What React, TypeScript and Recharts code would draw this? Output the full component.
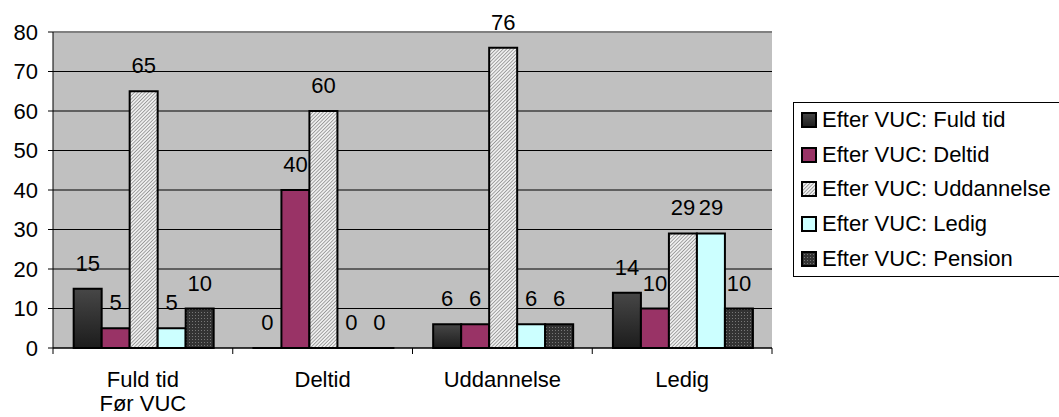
import React from "react";
import {
  BarChart, Bar, XAxis, YAxis, CartesianGrid, LabelList, ReferenceLine,
} from "recharts";

const CATEGORIES = ["Fuld tid", "Deltid", "Uddannelse", "Ledig"];
const AXIS_TITLE = "Før VUC";
const Y_TICKS = [0, 10, 20, 30, 40, 50, 60, 70, 80];

const FULD_TID = [15, 0, 6, 14];
const DELTID = [5, 40, 6, 10];
const UDDANNELSE = [65, 60, 76, 29];
const LEDIG = [5, 0, 6, 29];
const PENSION = [10, 0, 6, 10];

const SERIES = [
  { key: "fuld", name: "Efter VUC: Fuld tid", values: FULD_TID, fill: "url(#gFuld)" },
  { key: "deltid", name: "Efter VUC: Deltid", values: DELTID, fill: "#993366" },
  { key: "udd", name: "Efter VUC: Uddannelse", values: UDDANNELSE, fill: "url(#pHatch)" },
  { key: "ledig", name: "Efter VUC: Ledig", values: LEDIG, fill: "#CCFFFF" },
  { key: "pension", name: "Efter VUC: Pension", values: PENSION, fill: "url(#pDots)" },
];

const data = CATEGORIES.map((c, i) => {
  const row: Record<string, string | number> = { cat: c };
  SERIES.forEach((s) => { row[s.key] = s.values[i]; });
  return row;
});

const FONT = "'Liberation Sans', Arial, sans-serif";
const FS = 22;
const BAND = 179.75;

// tick y arrives already pushed down by tickSize + margin
function CatTick(props: any) {
  const { x, y, payload, index } = props;
  const base = y - 8;
  const left = x - BAND / 2;
  return (
    <g>
      <line x1={left} y1={base} x2={left} y2={base + 6} stroke="#000" />
      {index === CATEGORIES.length - 1 && (
        <line x1={x + BAND / 2} y1={base} x2={x + BAND / 2} y2={base + 6} stroke="#000" />
      )}
      <text x={x} y={base + 39} textAnchor="middle" fontSize={FS} fill="#000" fontFamily={FONT}>
        {payload.value}
      </text>
      {index === 0 && (
        <text x={x} y={base + 63} textAnchor="middle" fontSize={FS} fill="#000" fontFamily={FONT}>
          {AXIS_TITLE}
        </text>
      )}
    </g>
  );
}

function ValueLabel(props: any) {
  const { x, y, width, height, value } = props;
  const top = Math.min(y, y + height);
  return (
    <text x={x + width / 2} y={top - 18} textAnchor="middle" fontSize={FS} fill="#000" fontFamily={FONT}>
      {String(value)}
    </text>
  );
}

function LegendBox() {
  return (
    <div
      style={{
        position: "absolute",
        left: 793,
        top: 102,
        width: 280,
        height: 175,
        border: "1px solid #000",
        fontFamily: FONT,
        fontSize: FS,
        background: "#fff",
        boxSizing: "border-box",
        paddingLeft: 7,
      }}
    >
      {SERIES.map((s) => (
        <div key={s.key} style={{ display: "flex", alignItems: "center", height: 34.6, whiteSpace: "nowrap" }}>
          <svg width={16} height={16} style={{ marginRight: 5, flex: "none" }}>
            <rect x={1} y={1} width={14} height={14} fill={s.fill} stroke="#000" strokeWidth={2} />
          </svg>
          <span>{s.name}</span>
        </div>
      ))}
    </div>
  );
}

export default function App() {
  return (
    <div style={{ position: "absolute", left: 0, top: 0, width: 1059, height: 417, background: "#fff", overflow: "hidden" }}>
      <svg width={0} height={0} style={{ position: "absolute" }}>
        <defs>
          <linearGradient id="gFuld" x1="0" y1="0" x2="0" y2="1">
            <stop offset="0%" stopColor="#474747" />
            <stop offset="100%" stopColor="#1c1c1c" />
          </linearGradient>
          <pattern id="pHatch" width="2.5" height="2.5" patternUnits="userSpaceOnUse" patternTransform="rotate(45)">
            <rect width="2.5" height="2.5" fill="#eeeeee" />
            <line x1="0" y1="0" x2="0" y2="2.5" stroke="#5a5a5a" strokeWidth="1" />
          </pattern>
          <pattern id="pDots" width="3" height="3" patternUnits="userSpaceOnUse">
            <rect width="3" height="3" fill="#333" />
            <rect width="1" height="1" fill="#777" />
          </pattern>
        </defs>
      </svg>
      <BarChart
        width={1059}
        height={417}
        data={data}
        margin={{ top: 32, right: 287, left: 0, bottom: 0 }}
        barCategoryGap="11.5%"
        barGap={0}
      >
        <CartesianGrid vertical={false} stroke="#000" fill="#C0C0C0" strokeWidth={1} />
        <XAxis
          dataKey="cat"
          height={69}
          stroke="#000"
          tickLine={false}
          tick={<CatTick />}
          interval={0}
        />
        <YAxis
          width={53}
          domain={[0, 80]}
          ticks={Y_TICKS}
          interval={0}
          stroke="#000"
          tickSize={5}
          tickMargin={10}
          tick={{ fill: "#000", fontSize: FS, fontFamily: FONT }}
        />
        <YAxis
          yAxisId="r"
          orientation="right"
          width={0}
          domain={[0, 80]}
          tick={false}
          tickLine={false}
          stroke="#808080"
          strokeWidth={2}
        />
        <ReferenceLine y={80} stroke="#808080" strokeWidth={2} />
        {SERIES.map((s) => (
          <Bar
            key={s.key}
            dataKey={s.key}
            name={s.name}
            fill={s.fill}
            stroke="#000"
            strokeWidth={2}
            minPointSize={0.01}
            isAnimationActive={false}
          >
            <LabelList dataKey={s.key} content={<ValueLabel />} />
          </Bar>
        ))}
      </BarChart>
      <LegendBox />
    </div>
  );
}
